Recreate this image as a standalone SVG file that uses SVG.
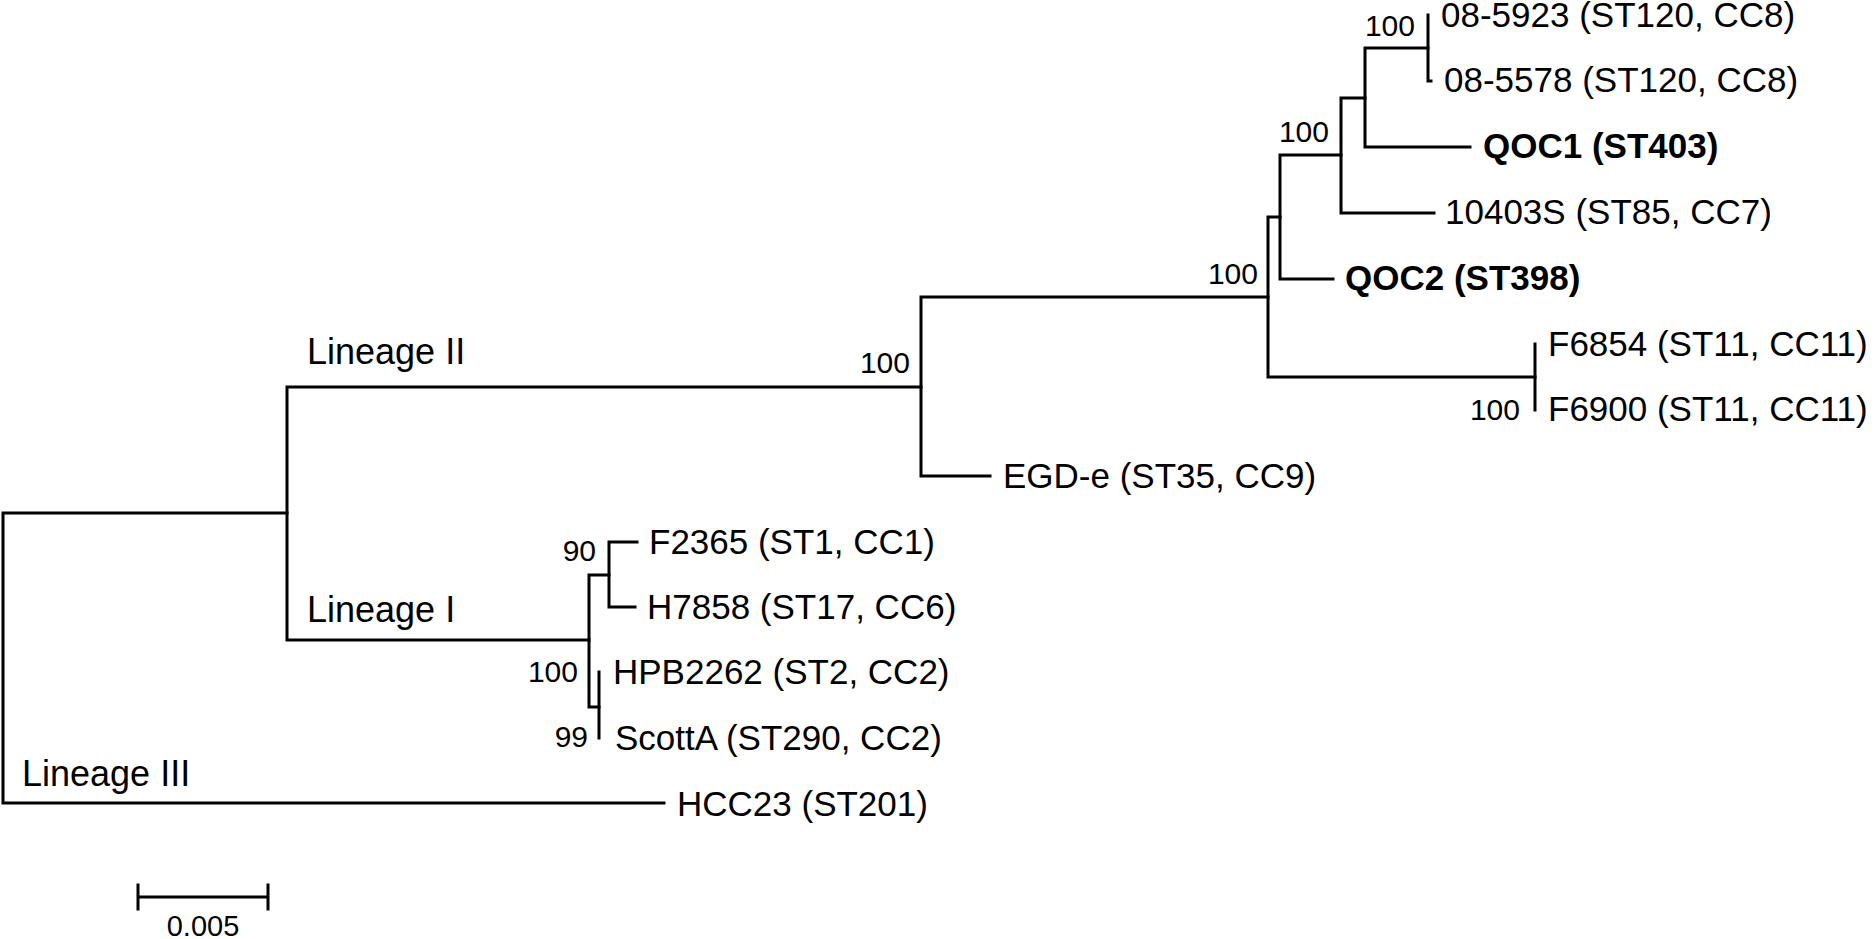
<svg xmlns="http://www.w3.org/2000/svg" width="1876" height="939" viewBox="0 0 1876 939">
<style>
.br{fill:none;stroke:#000;stroke-width:3;stroke-linecap:square;stroke-linejoin:miter}
.tx{font-family:"Liberation Sans",Arial,sans-serif;font-size:35px;fill:#000}
.b{font-weight:bold}
.bs{font-family:"Liberation Sans",Arial,sans-serif;font-size:30px;fill:#000;text-anchor:end}
.ln{font-family:"Liberation Sans",Arial,sans-serif;font-size:36px;fill:#000}
</style>
<rect width="1876" height="939" fill="#fff"/>
<g id="connectors">
<path class="br" d="M287 513H3V803H664"/>
<path class="br" d="M921 387H287V640H589"/>
<path class="br" d="M1268 297H921V476H990"/>
<path class="br" d="M1280 217H1268V377H1535"/>
<path class="br" d="M1535 344V410"/>
<path class="br" d="M1341 155H1280V279H1333"/>
<path class="br" d="M1365 98H1341V213H1434"/>
<path class="br" d="M1428 48H1365V147H1470"/>
<path class="br" d="M1428 15V81H1431"/>
<path class="br" d="M609 575H589V707H599"/>
<path class="br" d="M637 542H609V607H635"/>
<path class="br" d="M599 672V738"/>
</g>
<g id="taxon-08-5923"><text class="tx" x="1441" y="27">08-5923 (ST120, CC8)</text></g>
<g id="taxon-08-5578"><text class="tx" x="1444" y="92">08-5578 (ST120, CC8)</text></g>
<g id="taxon-QOC1"><text class="tx b" x="1483" y="158">QOC1 (ST403)</text></g>
<g id="taxon-10403S"><text class="tx" x="1445" y="224">10403S (ST85, CC7)</text></g>
<g id="taxon-QOC2"><text class="tx b" x="1345" y="290">QOC2 (ST398)</text></g>
<g id="taxon-F6854"><text class="tx" x="1548" y="356">F6854 (ST11, CC11)</text></g>
<g id="taxon-F6900"><text class="tx" x="1548" y="421">F6900 (ST11, CC11)</text></g>
<g id="taxon-EGD-e"><text class="tx" x="1003" y="488">EGD-e (ST35, CC9)</text></g>
<g id="taxon-F2365"><text class="tx" x="649" y="554">F2365 (ST1, CC1)</text></g>
<g id="taxon-H7858"><text class="tx" x="647" y="619">H7858 (ST17, CC6)</text></g>
<g id="taxon-HPB2262"><text class="tx" x="613" y="684">HPB2262 (ST2, CC2)</text></g>
<g id="taxon-ScottA"><text class="tx" x="615" y="750">ScottA (ST290, CC2)</text></g>
<g id="taxon-HCC23"><text class="tx" x="677" y="816">HCC23 (ST201)</text></g>
<g id="lineage-II"><text class="ln" x="307" y="364">Lineage II</text></g>
<g id="lineage-I"><text class="ln" x="307" y="622">Lineage I</text></g>
<g id="lineage-III"><text class="ln" x="22" y="786">Lineage III</text></g>
<g id="bootstrap">
<text class="bs" x="1415" y="36">100</text>
<text class="bs" x="1329" y="142">100</text>
<text class="bs" x="1258" y="284">100</text>
<text class="bs" x="910" y="373">100</text>
<text class="bs" x="1520" y="420">100</text>
<text class="bs" x="596" y="561">90</text>
<text class="bs" x="578" y="682">100</text>
<text class="bs" x="588" y="747">99</text>
</g>
<g id="scale-bar">
<path class="br" d="M138 897H268M138 885V909M268 885V909" stroke-linecap="butt"/>
<text x="203" y="936" style="font-family:'Liberation Sans',Arial,sans-serif;font-size:29px;text-anchor:middle">0.005</text>
</g>
</svg>
